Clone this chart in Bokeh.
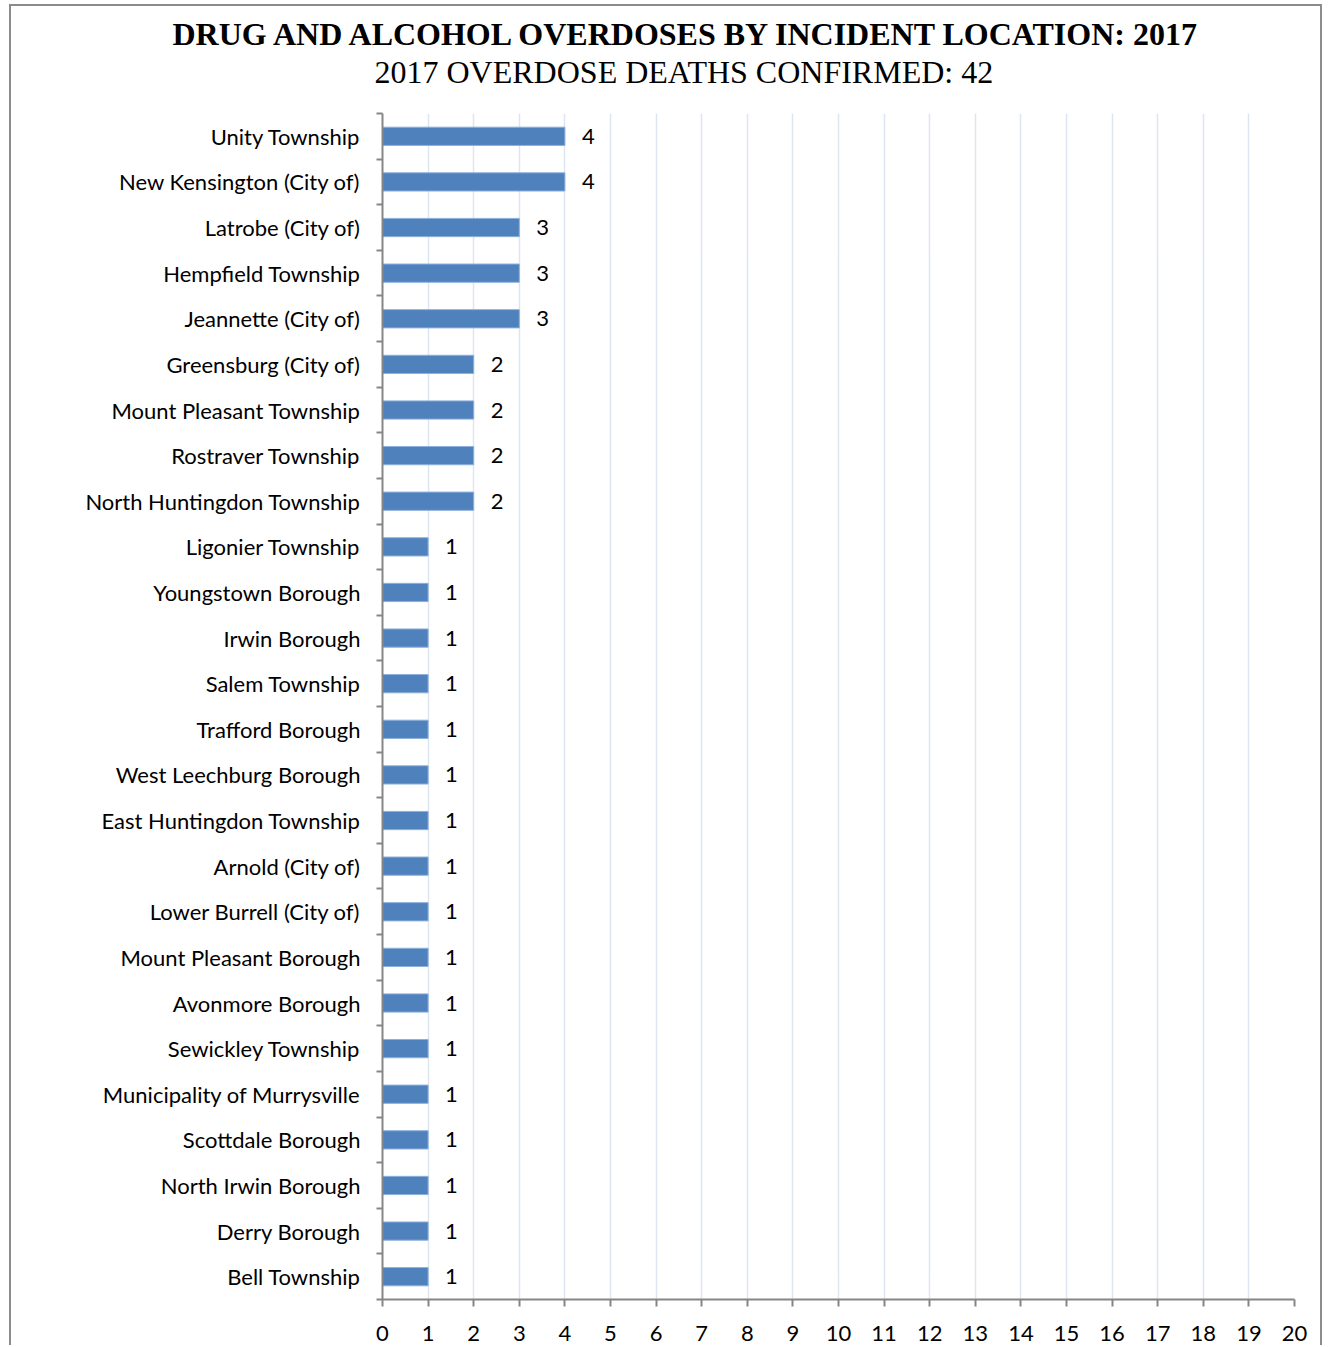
from bokeh.plotting import figure
from bokeh.models import Range1d, FixedTicker, Title, ColumnDataSource
from bokeh.core.properties import value
from bokeh.embed import file_html
from bokeh.resources import INLINE

title_text = "DRUG AND ALCOHOL OVERDOSES BY INCIDENT LOCATION: 2017"
subtitle_text = "2017 OVERDOSE DEATHS CONFIRMED: 42"

locations = [
    "Unity Township", "New Kensington (City of)", "Latrobe (City of)", "Hempfield Township",
    "Jeannette (City of)", "Greensburg (City of)", "Mount Pleasant Township", "Rostraver Township",
    "North Huntingdon Township", "Ligonier Township", "Youngstown Borough", "Irwin Borough",
    "Salem Township", "Trafford Borough", "West Leechburg Borough", "East Huntingdon Township",
    "Arnold (City of)", "Lower Burrell (City of)", "Mount Pleasant Borough", "Avonmore Borough",
    "Sewickley Township", "Municipality of Murrysville", "Scottdale Borough", "North Irwin Borough",
    "Derry Borough", "Bell Township",
]
deaths = [4, 4, 3, 3, 3, 2, 2, 2, 2, 1, 1, 1, 1, 1, 1, 1, 1, 1, 1, 1, 1, 1, 1, 1, 1, 1]
x_ticks = list(range(0, 21))

n = len(locations)
centers = [i + 0.5 for i in range(n)]
src = ColumnDataSource(dict(y=centers, v=deaths, lab=[str(d) for d in deaths]))

p = figure(width=1313, height=1341, output_backend="svg", toolbar_location=None,
           x_range=Range1d(0, 20), y_range=Range1d(n, 0),
           min_border_left=371, min_border_right=30, min_border_bottom=48, min_border_top=0)
p.styles = {"border-style": "solid solid none solid", "border-width": "2px",
            "border-color": "#8c8c8c", "margin-left": "9px", "margin-top": "4px"}
p.outline_line_color = None
p.background_fill_color = "white"
p.border_fill_color = "white"

# titles (last added is outermost)
p.add_layout(Title(text=" ", text_font_size="20px", standoff=0), "above")
p.add_layout(Title(text=subtitle_text, text_font="Liberation Serif", text_font_size="32px",
                   text_font_style="normal", align="left", offset=-8, standoff=0,
                   text_color="black"), "above")
p.add_layout(Title(text=title_text, text_font="Liberation Serif", text_font_size="32px",
                   text_font_style="bold", align="left", offset=-210, standoff=0,
                   text_color="black"), "above")
p.add_layout(Title(text=" ", text_font_size="4px", standoff=0), "above")

p.hbar(y="y", right="v", left=0, height=0.4, source=src,
       fill_color="#4f81bd", line_color="#8db0dc", line_width=1)
p.text(x="v", y="y", text="lab", source=src, x_offset=17, text_baseline="middle", text_align="left",
       text_font=value("Lato"), text_font_size="22px", text_color="black")

# x axis
xa = p.xaxis[0]
xa.ticker = FixedTicker(ticks=x_ticks, minor_ticks=[])
xa.axis_line_color = "#868686"
xa.axis_line_width = 2
xa.major_tick_line_color = "#868686"
xa.major_tick_line_width = 2
xa.major_tick_out = 7
xa.major_tick_in = 0
xa.minor_tick_line_color = None
xa.major_label_text_font = "Lato"
xa.major_label_text_font_size = "22px"
xa.major_label_text_color = "black"
xa.major_label_standoff = 19

# y axis
ya = p.yaxis[0]
ya.ticker = FixedTicker(ticks=centers, minor_ticks=list(range(0, n + 1)))
ya.major_label_overrides = {c: name for c, name in zip(centers, locations)}
ya.axis_line_color = "#868686"
ya.axis_line_width = 2
ya.major_tick_line_color = None
ya.major_tick_out = 0
ya.major_tick_in = 0
ya.minor_tick_line_color = "#868686"
ya.minor_tick_line_width = 2
ya.minor_tick_out = 6
ya.minor_tick_in = 0
ya.major_label_text_font = "Lato"
ya.major_label_text_font_size = "22px"
ya.major_label_text_color = "black"
ya.major_label_standoff = 16

p.xgrid.ticker = FixedTicker(ticks=x_ticks)
p.xgrid.grid_line_color = "#dce6f2"
p.xgrid.grid_line_width = 1.5
p.ygrid.grid_line_color = None

open("out.html", "w").write(file_html(p, INLINE))
